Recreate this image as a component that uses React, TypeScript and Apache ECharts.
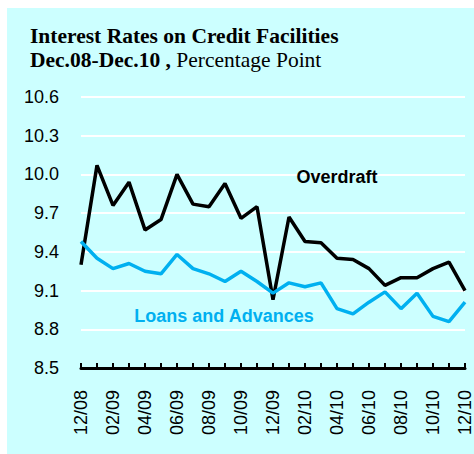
import React, { useEffect, useRef } from "react";
import * as echarts from "echarts";

const categories = [
  "12/08", "01/09", "02/09", "03/09", "04/09", "05/09", "06/09", "07/09", "08/09",
  "09/09", "10/09", "11/09", "12/09", "01/10", "02/10", "03/10", "04/10", "05/10",
  "06/10", "07/10", "08/10", "09/10", "10/10", "11/10", "12/10",
];

const overdraft = [
  9.30, 10.07, 9.76, 9.94, 9.57, 9.65, 10.0, 9.77, 9.75, 9.93, 9.66, 9.75, 9.03,
  9.67, 9.48, 9.47, 9.35, 9.34, 9.27, 9.14, 9.20, 9.20, 9.27, 9.32, 9.10,
];

const loans = [
  9.48, 9.35, 9.27, 9.31, 9.25, 9.23, 9.38, 9.27, 9.23, 9.17, 9.25, 9.17, 9.08,
  9.16, 9.13, 9.16, 8.96, 8.92, 9.01, 9.09, 8.96, 9.08, 8.90, 8.86, 9.01,
];

const yMin = 8.5;
const yMax = 10.6;
const yStep = 0.3;

const titleLine1 = "Interest Rates on Credit Facilities";
const titleLine2Bold = "Dec.08-Dec.10 ,";
const titleLine2Normal = " Percentage Point";
const overdraftLabel = "Overdraft";
const loansLabel = "Loans and Advances";

const BG = "#CCFFFF";
const CYAN = "#00B0F0";

export default function App() {
  const ref = useRef<HTMLDivElement>(null);

  useEffect(() => {
    document.body.style.margin = "0";
    const chart = echarts.init(ref.current!, null, { renderer: "svg" });
    const shift = (arr: number[]) => arr.map((v) => +(v - yMin).toFixed(4));
    const serif = "'Liberation Serif', 'Times New Roman', serif";
    chart.setOption({
      animation: false,
      backgroundColor: "#ffffff",
      graphic: [
        {
          type: "rect",
          z: -10,
          silent: true,
          shape: { x: 7, y: 8, width: 467, height: 446 },
          style: { fill: BG },
        },
        {
          type: "text",
          z: 100,
          x: 30,
          y: 25,
          style: {
            text: titleLine1,
            font: "bold 21.5px " + serif,
            fill: "#000",
          },
        },
        {
          type: "text",
          z: 100,
          x: 30,
          y: 49,
          style: {
            text: "{b|" + titleLine2Bold + "}{n|" + titleLine2Normal + "}",
            rich: {
              b: { fontFamily: serif, fontWeight: "bold", fontSize: 21.5, fill: "#000" },
              n: { fontFamily: serif, fontWeight: "normal", fontSize: 21.5, fill: "#000" },
            },
          },
        },
        {
          type: "text",
          z: 100,
          x: 337,
          y: 177,
          style: {
            text: overdraftLabel,
            font: "bold 18px 'Liberation Sans', Arial, sans-serif",
            fill: "#000",
            align: "center",
            verticalAlign: "middle",
          },
        },
        {
          type: "text",
          z: 100,
          x: 224,
          y: 316,
          style: {
            text: loansLabel,
            font: "bold 18px 'Liberation Sans', Arial, sans-serif",
            fill: CYAN,
            align: "center",
            verticalAlign: "middle",
          },
        },
      ],
      grid: { left: 81, right: 2, top: 97, bottom: 86, containLabel: false },
      xAxis: {
        type: "category",
        data: categories,
        boundaryGap: false,
        axisLine: { show: true, onZero: false, lineStyle: { color: "#000", width: 3 } },
        axisTick: { show: true, inside: true, length: 5, interval: 0, lineStyle: { color: "#000", width: 2 } },
        axisLabel: {
          interval: 1,
          rotate: 90,
          margin: 22,
          color: "#000",
          fontSize: 18,
          fontFamily: "'Liberation Sans', Arial, sans-serif",
        },
        splitLine: { show: false },
      },
      yAxis: {
        type: "value",
        min: 0,
        max: +(yMax - yMin).toFixed(4),
        interval: yStep,
        axisLine: { show: false },
        axisTick: { show: false },
        axisLabel: {
          margin: 22,
          color: "#000",
          fontSize: 18,
          fontFamily: "'Liberation Sans', Arial, sans-serif",
          formatter: (v: number) => (v + yMin).toFixed(1),
        },
        splitLine: { show: true, lineStyle: { color: "#ffffff", width: 2 } },
      },
      series: [
        {
          name: "Overdraft",
          type: "line",
          data: shift(overdraft),
          showSymbol: false,
          symbol: "none",
          lineStyle: { color: "#000", width: 3.5 },
          z: 3,
        },
        {
          name: "Loans and Advances",
          type: "line",
          data: shift(loans),
          showSymbol: false,
          symbol: "none",
          lineStyle: { color: CYAN, width: 3.5 },
          z: 4,
        },
      ],
    });
    return () => chart.dispose();
  }, []);

  return <div ref={ref} style={{ width: 474, height: 454 }} />;
}
